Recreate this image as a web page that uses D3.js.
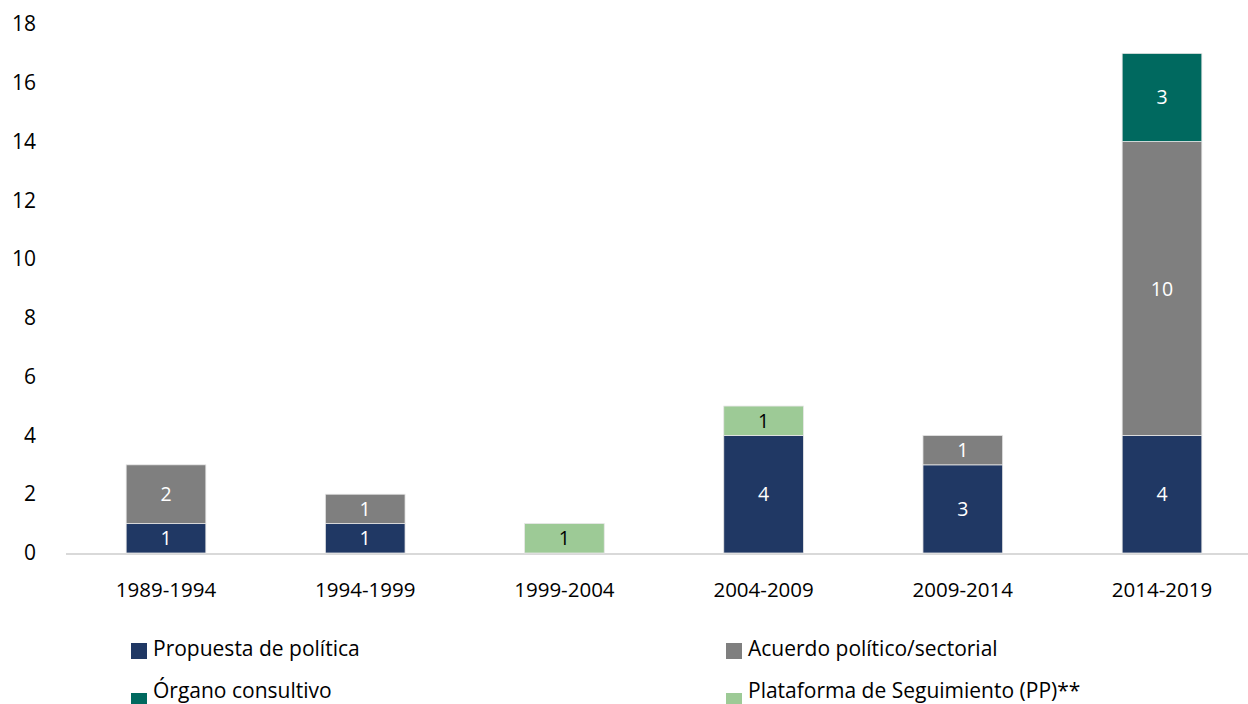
<!DOCTYPE html>
<html><head><meta charset="utf-8">
<script src="https://cdn.jsdelivr.net/npm/d3@7"></script>
<style>
html,body{margin:0;padding:0;background:#fff;}
svg{display:block;font-family:"Open Sans","Noto Sans",sans-serif;}
</style></head>
<body><svg id="c" width="1248" height="704"></svg>
<script>
const categories = ["1989-1994","1994-1999","1999-2004","2004-2009","2009-2014","2014-2019"];
const seriesNames = ["Propuesta de política","Acuerdo político/sectorial","Órgano consultivo","Plataforma de Seguimiento (PP)**"];
const propuesta  = [1,1,0,4,3,4];
const acuerdo    = [2,1,0,0,1,10];
const organo     = [0,0,0,0,0,3];
const plataforma = [0,0,1,1,0,0];
const colors = ["#203864","#7f7f7f","#00695f","#9dca96"];
const labelColors = ["#fff","#fff","#fff","#000"];
const yTicks = [0,2,4,6,8,10,12,14,16,18];

const svg = d3.select("#c");
const x = d3.scaleBand().domain(categories).range([66.4,1261.6]).paddingInner(0.6).paddingOuter(0.3);
const y = d3.scaleLinear().domain([0,18]).range([553,24]);

const rows = categories.map((c,i)=>({cat:c, s0:propuesta[i], s1:acuerdo[i], s2:organo[i], s3:plataforma[i]}));
const stack = d3.stack().keys(["s0","s1","s2","s3"])(rows);

// axis line
svg.append("line").attr("x1",66).attr("x2",1248).attr("y1",y(0)+1).attr("y2",y(0)+1)
  .attr("stroke","#d9d9d9").attr("stroke-width",2);

// y ticks
const ya = svg.append("g").attr("transform","translate(36,0)")
  .call(d3.axisLeft(y).tickValues(yTicks).tickSize(0).tickPadding(0));
ya.select(".domain").remove();
ya.selectAll("text").attr("font-size",21).attr("fill","#000").attr("font-family","Open Sans");

// x labels
const xa = svg.append("g").attr("transform","translate(0,597)")
  .call(d3.axisBottom(x).tickSize(0).tickPadding(0));
xa.select(".domain").remove();
xa.selectAll("text").attr("y",0).attr("dy",0).attr("font-size",20.5).attr("fill","#000").attr("font-family","Open Sans");

stack.forEach((layer,k)=>{
  const g = svg.append("g");
  layer.forEach((d,i)=>{
    const v = d[1]-d[0];
    if(v<=0) return;
    g.append("rect").attr("x",x(categories[i])).attr("width",x.bandwidth())
      .attr("y",y(d[1])).attr("height",y(d[0])-y(d[1]))
      .attr("fill",colors[k]).attr("stroke","#e6e6e6").attr("stroke-width",0.8);
    g.append("text").attr("x",x(categories[i])+x.bandwidth()/2)
      .attr("y",(y(d[0])+y(d[1]))/2).attr("dy","0.36em")
      .attr("text-anchor","middle").attr("font-size",19.5).attr("fill",labelColors[k])
      .text(v);
  });
});

// legend
const legPos = [[131,656,643,16],[726,656,643,16],[131,698,693,16],[726,698,693,16]];
seriesNames.forEach((n,k)=>{
  const [lx,base,sqy,sqh] = legPos[k];
  svg.append("rect").attr("x",lx).attr("y",sqy).attr("width",16).attr("height",sqh)
    .attr("fill",colors[k]);
  svg.append("text").attr("x",lx+22).attr("y",base)
    .attr("font-size",21).attr("fill","#000").text(n);
});
</script></body></html>
